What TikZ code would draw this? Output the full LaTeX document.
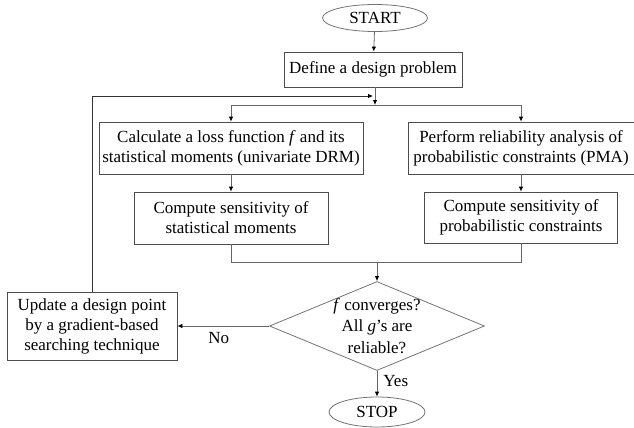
\documentclass[tikz,border=0pt]{standalone}
\usepackage{fontspec}
\setmainfont{Liberation Serif}
\usetikzlibrary{shapes.geometric,arrows.meta}
\begin{document}
\begin{tikzpicture}[x=1pt,y=-1pt,
  every node/.style={font=\fontsize{17}{20}\selectfont, align=center, inner sep=0pt},
  box/.style={draw=black!70, line width=0.8pt},
  term/.style={draw=black!55, line width=0.8pt, ellipse},
  link/.style={draw=black!60, line width=0.8pt},
  arr/.style={link, -{Latex[length=5pt,width=4.5pt,color=black]}},
  lbl/.style={font=\fontsize{17}{20}\selectfont}]
\useasboundingbox (0,0) rectangle (634,428);
\node[term, minimum width=105pt, minimum height=27pt] (start) at (375,18) {START};
\node[box, minimum width=178pt, minimum height=35pt] (define) at (373,69.5) {Define a design problem};
\node[box, minimum width=264pt, minimum height=52pt] (calc) at (231,148) {Calculate a loss function \textit{f} and its\\statistical moments (univariate DRM)};
\node[box, minimum width=226pt, minimum height=52pt] (perf) at (521,148) {Perform reliability analysis of\\probabilistic constraints (PMA)};
\node[box, minimum width=194pt, minimum height=52pt] (sensL) at (231,218) {Compute sensitivity of\\statistical moments};
\node[box, minimum width=193pt, minimum height=51pt] (sensR) at (521,217.5) {Compute sensitivity of\\probabilistic constraints};
\node[draw=black!55, line width=0.8pt, diamond, aspect=2.42, minimum width=215pt, minimum height=89pt] (dec) at (377,326) {};
\node[font=\fontsize{17}{21.5}\selectfont] (dectext) at (dec.center) {\textit{f} converges?\\All \textit{g}’s are\\reliable?};
\node[box, minimum width=170pt, minimum height=68pt] (upd) at (92,326) {Update a design point\\by a gradient-based\\searching technique};
\node[term, minimum width=96pt, minimum height=30pt] (stop) at (377,412) {STOP};
\coordinate (top) at (375,105);
\coordinate (loopc) at (92,96);
\coordinate (loopend) at (373,96);
\coordinate (splitL) at (231,105);
\coordinate (splitR) at (521,105);
\coordinate (joinL) at (231,262);
\coordinate (joinR) at (521,262);
\coordinate (joinM) at (377,262);
\draw[arr] (start) -- (define);
\draw[arr] (define.south -| top) -- (top);
\draw[link] (splitL) -- (splitR);
\draw[arr] (splitL) -- (calc);
\draw[arr] (splitR) -- (perf);
\draw[arr] (calc) -- (sensL);
\draw[arr] (perf) -- (sensR);
\draw[link] (sensL) -- (joinL) -- (joinR) -- (sensR);
\draw[arr] (joinM) -- (dec.north);
\draw[arr] (dec.west) -- (upd.east) node[lbl, pos=0.55, below=6pt] {No};
\draw[arr] (dec.south) -- (stop.north) node[lbl, pos=0.4, right=6pt] {Yes};
\draw[arr, draw=black!80] (upd.north) -- (loopc) -- (loopend);
\end{tikzpicture}
\end{document}
